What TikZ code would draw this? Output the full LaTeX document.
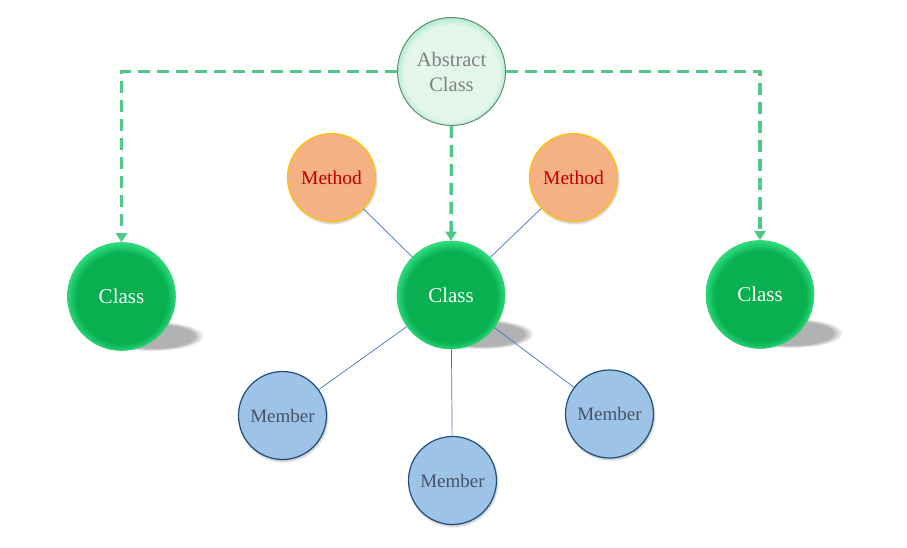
\documentclass[tikz,border=0pt]{standalone}
\usepackage{fontspec}
\setmainfont{Liberation Serif}
\usetikzlibrary{arrows.meta,fadings,shadows.blur}
\definecolor{dashgreen}{RGB}{80,200,135}
\definecolor{classgreen}{RGB}{8,176,80}
\definecolor{classlight}{RGB}{50,225,130}
\definecolor{classedge}{RGB}{40,210,110}
\definecolor{absfill}{RGB}{228,245,236}
\definecolor{absrim}{RGB}{170,235,200}
\definecolor{absedge}{RGB}{95,140,115}
\definecolor{abstext}{RGB}{128,128,128}
\definecolor{methfill}{RGB}{244,177,131}
\definecolor{methedge}{RGB}{255,192,0}
\definecolor{methtext}{RGB}{192,0,0}
\definecolor{memfill}{RGB}{157,195,230}
\definecolor{memedge}{RGB}{31,78,121}
\definecolor{memtext}{RGB}{68,84,106}
\definecolor{linkblue}{RGB}{68,114,196}
\pgfdeclareradialshading{classball}{\pgfpoint{0bp}{-1.5bp}}{color(0bp)=(classgreen); color(21bp)=(classgreen); color(26bp)=(classlight); color(50bp)=(classlight)}
\pgfdeclareradialshading{absball}{\pgfpoint{0bp}{-1bp}}{color(0bp)=(absfill); color(22bp)=(absfill); color(26bp)=(absrim); color(50bp)=(absrim)}
\tikzset{
  classnode/.style={circle, minimum size=108pt, inner sep=0pt, shading=classball, draw=classedge, line width=0.6pt, text=white, font=\fontsize{21}{24}\selectfont},
  absnode/.style={circle, minimum size=108pt, inner sep=0pt, shading=absball, draw=absedge, line width=1pt, text=abstext, font=\fontsize{20.5}{25}\selectfont, align=center},
  methnode/.style={circle, minimum size=88pt, inner sep=0pt, fill=methfill, draw=methedge, line width=1.2pt, text=methtext, font=\fontsize{19.5}{22}\selectfont, blur shadow={shadow xshift=1pt, shadow yshift=-2pt, shadow blur steps=5, shadow opacity=25}},
  memnode/.style={circle, minimum size=88pt, inner sep=0pt, fill=memfill, draw=memedge, line width=1.2pt, text=memtext, font=\fontsize{19}{22}\selectfont, blur shadow={shadow xshift=1pt, shadow yshift=-2pt, shadow blur steps=5, shadow opacity=25}},
  inherit/.style={dashgreen, line width=3.5pt, dash pattern=on 12pt off 7pt, -{Triangle[length=9pt,width=11pt]}},
  link/.style={linkblue, line width=0.7pt},
  cshadow/.style={fill=black, opacity=0.3, path fading=circle with fuzzy edge 20 percent}
}
\begin{document}
\begin{tikzpicture}[x=1pt,y=-1pt]
\useasboundingbox (0,0) rectangle (907,548);
% shadows of class circles
\fill[cshadow] (152,336) ellipse (52pt and 15pt);
\fill[cshadow] (482,334) ellipse (52pt and 15pt);
\fill[cshadow] (791,333) ellipse (52pt and 15pt);
% nodes
\node[absnode] (abs) at (451.5,71.5) {Abstract\\Class};
\node[classnode] (cL) at (121.5,296.5) {Class};
\node[classnode] (cC) at (451,295) {Class};
\node[classnode] (cR) at (760,294.5) {Class};
\node[methnode] (mL) at (331.5,177.5) {Method};
\node[methnode] (mR) at (573.5,177.5) {Method};
\node[memnode] (bL) at (282.5,415.5) {Member};
\node[memnode] (bC) at (452.5,480.5) {Member};
\node[memnode] (bR) at (609.5,414) {Member};
% links
\draw[link] (mL) -- (cC);
\draw[link] (mR) -- (cC);
\draw[link] (bL) -- (cC);
\draw[link] (bC) -- (cC);
\draw[link] (bR) -- (cC);
% inheritance
\draw[inherit] (abs.west) -| (cL.north);
\draw[inherit] (abs.south) -- (cC.north);
\draw[inherit] (abs.east) -| (cR.north);
\end{tikzpicture}
\end{document}
